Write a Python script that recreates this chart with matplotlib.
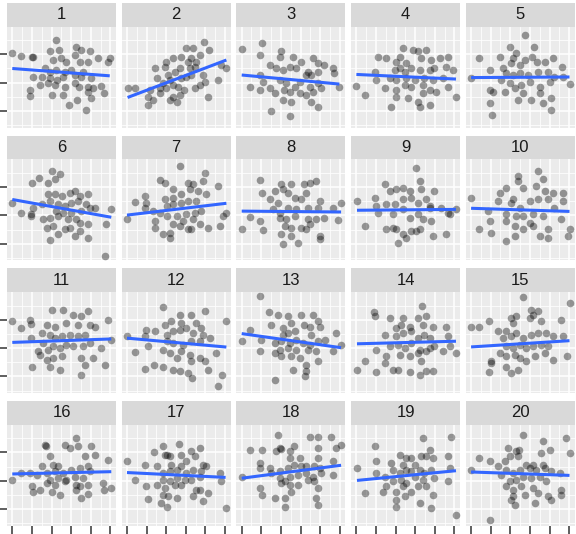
import numpy as np
import matplotlib
matplotlib.use("Agg")
import matplotlib.pyplot as plt

# scatter points of each panel (x ticks 0..5, y ticks -1..1)
p1_x = [0, 0.42, 0.98, 1.07, 2.25, 1.9, 2.4, 3.27, 3.5, 3.95, 3.2, 2.1, 2.5, 2.76, 3.44, 3.86, 4.37, 4.97, 4.88,
        1.66, 1.9, 2.25, 2.7, 3.0, 3.6, 1.07, 1.5, 1.9, 2.3, 2.6, 3.2, 3.5, 4.0, 1.4, 1.8, 2.2, 2.7, 3.2, 3.4,
        3.86, 4.1, 4.5, 0.9, 0.9, 2.0, 2.6, 3.3, 3.86, 4.66, 2.9, 3.75, 4.03]
p1_y = [1.04, 0.94, 0.92, 0.92, 1.5, 1.1, 1.15, 1.27, 1.15, 1.1, 0.98, 0.8, 0.86, 0.74, 0.74, 0.74, 0.86, 0.86, 0.74,
        0.5, 0.39, 0.45, 0.39, 0.45, 0.39, 0.21, 0.21, 0.15, 0.09, 0.21, 0.27, 0.21, 0.15, -0.08, -0.02, -0.08, -0.14, -0.02, -0.14,
        -0.14, -0.2, -0.12, -0.26, -0.46, -0.44, -0.44, -0.6, -0.32, -0.38, -0.79, -0.96, -0.55]

p2_x = [0.03, 0.4, 1.08, 1.42, 1.34, 1.68, 1.93, 2.0, 2.36, 2.44, 2.36, 2.7, 2.78, 3.03, 3.37, 3.29, 3.7, 3.95, 4.2,
        3.2, 3.46, 3.29, 3.88, 3.7, 2.78, 3.03, 2.19, 1.85, 2.36, 1.51, 2.6, 4.13, 4.64, 4.8, 5.07, 2.1, 1.68,
        2.9, 3.46, 3.97, 1.17, 2.0, 2.7, 3.54, 3.12, 2.19, 2.53, 1.08]
p2_y = [-0.18, -0.18, -0.49, 0.51, -0.61, -0.38, 0.56, -0.2, 0.86, 0.39, -0.49, -0.44, 0.92, 1.21, 1.21, 0.86, 0.98, 1.45, 1.15,
        0.51, 0.56, 0.27, 0.27, -0.08, 0.15, 0.21, 0.09, -0.02, -0.08, 0.15, -0.14, -0.49, 0.09, 0.62, 0.51, 0.27, -0.2,
        -0.26, -0.2, 0.04, -0.26, 0.74, 0.51, 0.74, 0.74, -0.61, -0.67, -0.79]

p3_x = [0, 1.03, 0.92, 2.02, 1.95, 2.6, 3.03, 3.63, 3.88, 4.2, 4.66, 4.73, 4.98, 1.42, 1.76, 2.1, 2.44, 2.78, 3.37,
        3.29, 3.54, 3.88, 0.92, 1.08, 0.41, 0.92, 1.42, 1.93, 2.27, 2.7, 2.17, 2.44, 2.95, 3.46, 3.88, 4.05,
        3.63, 3.29, 2.95, 2.53, 2.1, 3.54, 3.88, 1.51, 2.47, 1.68]
p3_y = [1.19, 1.39, 0.98, 1.12, 0.92, 0.92, 0.74, 0.86, 0.68, 0.62, 0.51, 0.33, -0.14, 0.62, 0.51, 0.45, 0.56, 0.51, 0.39,
        0.27, 0.27, 0.39, 0.27, 0.04, -0.14, -0.26, -0.2, 0.09, -0.02, -0.14, -0.26, -0.32, 0.04, -0.14, -0.02, -0.2,
        -0.32, -0.44, -0.38, -0.67, -0.61, -0.67, -0.85, -1.0, -1.16, -0.38]

p4_x = [0, 0.42, 0.93, 1.02, 1.1, 1.53, 1.44, 1.78, 2.03, 2.37, 2.2, 2.54, 2.88, 3.14, 3.56, 3.3, 3.81, 4.24, 4.66,
        4.58, 4.92, 1.95, 2.2, 2.46, 2.8, 3.22, 3.73, 3.98, 1.7, 2.03, 2.54, 2.97, 3.47, 3.9, 4.4, 2.03,
        2.46, 2.8, 3.39, 3.39, 3.73, 4.66, 5.08, 2.03, 2.63, 3.14, 3.73, 3.22, 4.07]
p4_y = [-0.12, -0.44, 0.39, 0.09, 0.89, 0.86, -0.2, -0.85, 0.74, 1.21, 0.92, 0.68, 1.15, 1.1, 1.15, 0.86, 0.8, 0.86, 0.92,
        0.56, 0.45, 0.45, 0.51, 0.39, 0.51, 0.45, 0.45, 0.51, 0.15, 0.09, 0.15, 0.09, 0.15, 0.09, 0.15, -0.26,
        -0.08, -0.14, -0.08, -0.38, -0.26, -0.14, -0.49, -0.49, -0.55, -0.67, -0.79, -0.85, -0.32]

p5_x = [0, 0.41, 0.95, 0.95, 0.95, 1.05, 1.12, 1.46, 1.63, 1.71, 1.97, 2.14, 2.31, 2.05, 2.75, 2.75, 3.19, 3.1, 3.36,
        3.78, 4.2, 4.63, 4.68, 5.02, 1.8, 2.14, 2.48, 2.9, 3.4, 3.9, 4.24, 1.97, 2.22, 2.56, 2.98, 3.49,
        3.49, 4.0, 2.64, 2.39, 3.07, 3.66, 4.08, 4.08, 2.48, 1.54]
p5_y = [0.15, 0.88, 0.45, -0.26, -0.71, -1.14, -0.32, 0.92, 0.51, -0.32, 1.27, 0.86, 1.04, 0.68, 1.68, 0.8, 1.27, 0.92, 0.74,
        0.74, 0.86, 0.56, 0.21, -0.06, 0.33, 0.27, 0.33, 0.27, 0.39, 0.39, 0.21, -0.02, -0.2, -0.08, 0.04, -0.14,
        -0.38, 0.04, -0.38, -0.61, -0.61, -0.73, -0.55, -0.96, 0.62, 0.09]

p6_x = [0, 0.42, 0.93, 0.93, 1.03, 1.37, 2.0, 2.42, 2.17, 1.8, 1.8, 2.2, 2.51, 2.93, 3.19, 3.44, 3.86, 1.49, 1.92,
        2.34, 2.68, 3.02, 3.36, 3.78, 3.95, 4.2, 1.07, 2.25, 2.58, 3.02, 3.53, 1.58, 1.92, 2.34, 2.85, 3.27,
        3.44, 3.86, 4.8, 5.05, 1.75, 2.08, 2.68, 2.93, 2.34, 3.19, 3.86, 1.92, 3.44, 4.71]
p6_y = [0.45, 0.09, 0.06, -0.02, 1.15, 1.31, 1.56, 1.45, 1.27, 1.15, 0.74, 0.74, 0.68, 0.8, 0.86, 0.68, 0.74, 0.39, 0.51,
        0.39, 0.33, 0.45, 0.51, 0.39, 0.27, 0.27, 0.27, 0.15, 0.09, 0.09, 0.15, -0.14, -0.08, -0.02, -0.14, -0.14,
        -0.26, -0.32, -0.32, 0.21, -0.44, -0.38, -0.49, -0.44, -0.67, -0.73, -0.81, -0.88, -0.55, -1.44]

p7_x = [0, 0.39, 0.9, 0.98, 0.9, 1.68, 1.93, 1.42, 1.42, 1.85, 2.19, 2.19, 1.93, 2.36, 2.7, 2.36, 2.78, 3.12, 3.37,
        3.2, 3.63, 3.97, 3.88, 4.05, 4.64, 2.02, 2.36, 2.78, 3.12, 3.54, 2.02, 2.53, 3.03, 3.46, 3.8, 2.86,
        3.37, 3.71, 2.7, 3.12, 3.29, 4.13, 4.73, 4.9, 5.07, 1.34, 1.68, 2.36]
p7_y = [-0.14, 0.47, 0.68, 0.45, 0.27, 1.24, 1.15, -0.2, -0.44, -0.67, -0.79, -0.61, 0.56, 0.92, 1.74, 0.62, 0.74, 1.15, 1.1,
        0.92, 0.86, 1.51, 1.21, 0.74, 1.04, 0.33, 0.39, 0.45, 0.51, 0.51, -0.02, -0.02, 0.04, 0.09, 0.15, -0.2,
        -0.14, -0.32, -0.38, -0.49, -0.49, -0.44, -0.38, -0.02, 0.09, 0.15, 0.09, -0.32]

p8_x = [0, 0.41, 0.92, 1.05, 0.92, 1.08, 1.42, 1.68, 2.02, 2.1, 1.85, 2.53, 2.36, 2.71, 3.2, 3.46, 3.8, 3.29, 3.03,
        3.97, 4.64, 5.07, 1.59, 1.93, 2.36, 2.78, 3.37, 3.88, 1.93, 2.27, 2.7, 3.37, 3.8, 4.22, 2.19, 2.53,
        3.03, 3.46, 2.02, 2.53, 2.1, 2.86, 3.29, 3.97, 3.97, 4.9]
p8_y = [-0.49, -0.06, 1.24, 0.8, -0.2, -0.53, 0.56, 0.86, 1.09, 0.92, 0.45, 1.09, 0.8, 0.62, 1.09, 1.15, 1.21, 0.8, 0.56,
        0.51, 0.27, 0.45, 0.21, 0.09, 0.27, 0.21, 0.27, 0.27, -0.08, -0.14, -0.02, -0.14, -0.14, -0.08, -0.38, -0.44,
        -0.44, -0.32, -0.67, -0.73, -1.0, -0.96, -0.49, -0.73, -0.85, -0.18]

p9_x = [0.03, 0.42, 0.93, 1.02, 1.1, 1.44, 1.7, 2.03, 2.37, 2.71, 3.05, 3.22, 3.3, 3.98, 1.53, 1.95, 2.37, 2.8, 3.14,
        3.56, 3.73, 4.32, 4.75, 5.08, 1.86, 2.37, 2.71, 3.14, 3.39, 3.81, 1.53, 1.86, 2.03, 2.12, 2.37, 2.8,
        3.05, 3.22, 3.9, 4.58, 4.66, 3.73, 2.54]
p9_y = [0.51, -0.38, 0.62, 0.33, 0.09, 1.12, 0.86, 0.92, 0.98, 0.86, 1.68, 1.21, 0.92, 0.86, 0.39, 0.39, 0.56, 0.62, 0.45,
        0.56, 0.33, 0.27, 0.04, 0.21, 0.04, 0.21, -0.08, 0.04, -0.14, -0.2, -0.49, -0.44, -0.49, -0.96, -0.67, -0.55,
        -0.55, -0.49, -0.73, -0.67, 0.09, 0.27, -0.79]

p10_x = [0, 0.41, 0.95, 1.03, 1.46, 1.8, 2.14, 2.39, 2.39, 2.64, 3.41, 3.66, 3.32, 3.75, 4.17, 4.68, 4.68, 0.86, 1.37,
         2.05, 2.47, 2.98, 3.41, 3.92, 4.25, 1.8, 2.31, 2.64, 3.15, 3.66, 1.8, 2.22, 2.64, 3.15, 3.49, 3.92,
         3.92, 2.22, 1.8, 4.6, 4.93, 5.02, 2.98]
p10_y = [0.62, -0.49, -0.2, -0.61, 0.8, 0.98, 0.56, 1.39, 1.21, 0.98, 1.56, 1.27, 1.04, 0.86, 0.8, 0.8, 0.51, 0.15, 0.51,
         0.45, 0.27, 0.51, 0.56, 0.56, 0.27, 0.04, -0.02, -0.02, 0.04, -0.02, -0.2, -0.38, -0.49, -0.38, -0.73, -0.49,
         -0.79, -0.73, -0.91, -0.14, -0.73, -0.49, -0.26]

p11_x = [0, 0.42, 0.9, 0.93, 0.93, 1.03, 1.49, 1.75, 2.0, 2.59, 2.17, 2.76, 3.1, 3.36, 3.53, 3.86, 3.95, 4.2, 4.88,
         1.58, 1.92, 2.17, 2.51, 2.93, 3.36, 3.7, 1.32, 1.83, 2.08, 2.42, 2.76, 3.1, 3.61, 3.95, 4.54, 1.75,
         2.08, 2.51, 1.92, 2.42, 3.53, 3.7, 4.12, 3.53, 4.71, 5.05, 1.41]
p11_y = [0.96, 0.71, 1.0, 0.85, 0.35, -0.68, 0.53, 0.82, 1.35, 1.35, 0.76, 0.88, 1.18, 0.82, 1.12, 1.29, 0.82, 0.76, 1.0,
         0.18, 0.47, 0.35, 0.41, 0.47, 0.41, 0.47, -0.12, -0.06, 0.06, 0, 0.12, 0.06, 0.06, 0.18, 0, -0.41,
         -0.35, -0.29, -0.65, -0.76, -0.35, -0.59, -0.35, -0.94, -0.59, 0.29, -0.24]

p12_x = [0, 0.39, 0.92, 0.92, 0.98, 1.08, 1.42, 1.37, 1.85, 1.85, 1.93, 2.27, 2.7, 2.78, 3.29, 3.54, 3.97, 3.8, 5.07,
         2.02, 2.36, 2.7, 3.03, 3.37, 3.88, 4.22, 2.02, 2.36, 2.86, 3.29, 3.71, 1.85, 2.19, 2.78, 3.2, 3.71,
         3.97, 2.53, 2.36, 2.7, 3.12, 3.34, 4.14, 4.56, 4.86, 4.64, 3.29]
p12_y = [0.41, -0.14, 0.41, -0.74, 0.65, 0.06, 0.59, -0.59, 1.44, -0.68, 0.82, 0.94, 1.18, 0.88, 1.18, 0.88, 1.32, 0.71, 0.96,
         0.47, 0.59, 0.65, 0.71, 0.53, 0.47, 0.35, 0.24, 0.18, 0.12, 0.24, 0.24, -0.06, -0.18, -0.12, -0.24, -0.35,
         -0.47, -0.35, -0.76, -0.82, -0.88, -1.04, -0.76, -0.18, -0.96, -1.35, -0.47]

p13_x = [0, 0.41, 0.92, 1.0, 0.92, 1.39, 1.51, 1.68, 1.85, 2.1, 2.36, 2.53, 2.1, 2.36, 2.71, 3.03, 3.2, 3.46, 3.63,
         3.9, 3.97, 3.53, 4.27, 4.81, 1.68, 2.02, 2.44, 2.78, 3.12, 3.46, 3.88, 1.93, 2.36, 2.78, 3.37, 3.8,
         1.68, 2.02, 2.53, 2.95, 3.88, 3.29, 2.61, 3.29, 3.25, 4.64, 5.07]
p13_y = [0.24, 0.65, 1.82, 0.29, -0.09, 1.27, 0.82, -1.12, 1.18, 0.71, 1.12, 0.88, 0.47, 0.53, 0.59, 1.18, 0.82, 0.76, 1.18,
         0.94, 0.76, 0.47, 0.29, 0.53, 0.18, 0.24, 0.18, 0.29, 0.18, 0.12, 0.24, -0.06, 0, -0.06, -0.06, -0.12,
         -0.18, -0.29, -0.29, -0.35, -0.47, -0.59, -0.76, -0.82, -1.0, -0.12, 0.12]

p14_x = [0.03, 0.42, 0.88, 0.93, 1.02, 1.02, 1.44, 1.7, 1.44, 1.86, 2.12, 2.03, 2.37, 2.29, 2.71, 3.14, 3.36, 3.39, 3.56,
         3.9, 4.58, 4.66, 2.03, 2.37, 2.8, 3.14, 3.47, 3.73, 1.7, 2.12, 2.46, 2.8, 3.22, 3.73, 3.98, 4.4,
         1.53, 2.2, 2.71, 3.14, 3.56, 3.3, 2.71, 3.22, 3.56, 3.9, 4.75, 5.08]
p14_y = [-0.76, -0.47, 1.27, 1.12, -0.06, -0.86, 0.47, 1.06, -0.53, -0.76, -0.76, 0.71, 1.06, 0.82, 0.76, 1.06, 1.47, 0.82, 1.12,
         0.76, 0.76, 0.41, 0.41, 0.53, 0.59, 0.35, 0.47, 0.35, 0.06, 0.12, 0, 0.18, -0.06, 0, 0.06, -0.12,
         -0.29, -0.24, -0.29, -0.18, -0.12, -0.47, -0.85, -0.94, -0.8, -0.82, 0.06, -0.18]

p15_x = [0, 0.41, 0.92, 1.03, 0.93, 1.37, 1.8, 2.05, 2.14, 2.31, 2.64, 2.98, 3.07, 3.41, 3.58, 3.15, 4.59, 5.02, 1.63,
         2.05, 2.31, 2.64, 3.07, 3.41, 3.83, 4.17, 4.68, 1.46, 1.8, 2.14, 2.48, 2.81, 3.15, 3.58, 3.92, 1.8,
         2.22, 2.48, 2.81, 3.24, 3.75, 4.17, 1.8, 2.05, 2.39, 4.88, 1.03]
p15_y = [0.73, 0.76, 0.94, -0.53, -0.86, 0.61, 0.59, 1.06, 0.88, 1.12, 1.79, 1.06, 1.35, 1.29, 0.94, 1.18, 1.0, 1.59, 0.35,
         0.41, 0.53, 0.35, 0.47, 0.53, 0.53, 0.41, 0.41, -0.18, 0.06, 0, 0.12, 0, 0.06, 0.12, 0.06, -0.29,
         -0.24, -0.35, -0.47, -0.29, -0.18, -0.41, -0.68, -0.88, -0.76, -0.29, -0.47]

p16_x = [0, 0.42, 0.9, 1.0, 1.05, 1.39, 1.49, 1.69, 1.72, 1.92, 2.0, 2.08, 2.34, 2.42, 2.68, 2.93, 3.27, 3.36, 3.69,
         4.03, 4.2, 4.88, 1.75, 2.2, 2.61, 3.02, 3.44, 3.86, 3.95, 1.92, 2.34, 2.76, 3.19, 3.61, 1.75, 2.17,
         2.68, 3.27, 3.44, 3.86, 3.27, 3.53, 3.86, 4.63, 4.66, 5.05, 1.24]
p16_y = [0.04, 0.27, 0.27, -0.2, -0.38, -0.32, 0.51, 1.27, 1.21, 0.86, -0.38, 0.56, 0.51, -0.49, 1.27, 1.15, 1.51, 1.21, 0.86,
         1.21, 0.92, 0.74, 0.27, 0.33, 0.27, 0.39, 0.45, 0.51, 0.33, 0.04, 0.09, 0.04, 0.15, 0.09, -0.08, -0.14,
         -0.02, -0.14, -0.2, -0.14, -0.32, -0.61, -0.46, -0.08, -0.32, -0.24, 0.21]

p17_x = [0, 0.39, 0.92, 0.98, 1.08, 1.37, 1.51, 1.85, 1.93, 2.02, 2.19, 2.27, 2.66, 2.78, 3.03, 3.29, 3.46, 3.71, 3.88,
         4.05, 1.85, 2.19, 2.53, 2.78, 3.03, 3.37, 3.8, 1.85, 2.19, 2.53, 2.95, 3.29, 3.71, 1.51, 1.93, 2.44,
         2.78, 3.71, 1.85, 2.1, 2.53, 3.37, 3.88, 4.13, 1.76, 2.02, 3.54, 4.73, 4.8, 5.03]
p17_y = [0.68, 0.01, 0.56, -0.2, -0.65, 1.0, 0.51, 1.21, 0.92, 0.92, 0.86, 0.56, 1.31, 0.92, 0.68, 1.04, 0.86, 1.15, 0.56,
         0.51, 0.27, 0.33, 0.39, 0.51, 0.27, 0.39, 0.33, 0.04, -0.02, 0.09, 0.04, 0.04, 0.15, -0.14, -0.26, -0.14,
         -0.14, -0.32, -0.49, -0.55, -0.61, -0.55, -0.73, -0.44, -0.79, -0.91, -0.32, 0.27, -0.02, -0.96]

p18_x = [0, 0.41, 0.92, 0.92, 1.05, 1.05, 1.42, 1.68, 1.76, 1.85, 1.93, 2.0, 2.19, 2.19, 2.44, 2.44, 2.69, 2.95, 3.46,
         3.88, 3.88, 3.88, 4.56, 4.81, 5.07, 4.64, 4.64, 1.51, 1.93, 2.36, 2.69, 3.03, 3.29, 3.71, 3.97, 1.93,
         2.19, 2.44, 2.86, 3.29, 3.63, 4.05, 2.02, 2.44, 2.86, 3.37, 3.71, 2.53, 3.88, 3.8, 3.88, 0.92]
p18_y = [0.15, 1.07, 0.45, -0.26, 1.09, -0.49, 0.45, -0.61, 1.04, 1.62, 1.15, 1.12, -0.61, -0.91, 1.04, 0.8, 1.21, 0.8, 1.56,
         1.56, 1.15, 0.8, 1.56, 1.15, 1.27, 0.68, 0.21, 0.27, 0.33, 0.45, 0.56, 0.51, 0.51, 0.51, 0.45, 0.09,
         -0.02, 0.15, 0.21, 0.27, 0.15, 0.27, -0.08, -0.14, -0.14, 0.04, -0.02, -0.38, -0.26, -0.61, -0.85, 0.62]

p19_x = [0.03, 0.42, 0.93, 1.02, 1.02, 1.44, 1.53, 1.78, 1.86, 2.03, 2.03, 2.2, 2.37, 2.54, 2.8, 2.97, 3.3, 3.39, 3.56,
         3.73, 3.9, 4.66, 4.83, 4.75, 2.2, 2.54, 2.8, 3.22, 3.47, 3.81, 1.86, 2.29, 2.54, 2.97, 3.39, 3.98,
         2.03, 2.37, 2.8, 3.14, 3.56, 2.46, 3.22, 3.9, 3.81, 4.66, 5.08, 1.36]
p19_y = [0.45, -0.44, 1.21, 0.68, 0.27, 0.15, -0.2, 0.62, 0.39, -0.67, -0.91, 0.92, 0.56, 0.8, 0.8, 0.56, 0.86, 1.51, 0.86,
         1.09, 0.8, 0.86, 1.56, 0.45, 0.27, 0.39, 0.33, 0.39, 0.27, 0.39, -0.02, 0.04, -0.08, 0.15, 0.04, 0.09,
         -0.38, -0.2, -0.38, -0.2, -0.2, -0.55, -0.79, -0.49, -0.96, -0.02, -1.2, -0.38]

p20_x = [0, 0.41, 0.95, 0.95, 1.37, 1.71, 1.88, 1.97, 2.31, 2.39, 2.42, 2.64, 2.81, 3.15, 3.58, 3.66, 4.0, 4.85, 5.02,
         3.66, 1.8, 2.14, 2.48, 2.98, 3.32, 3.75, 4.1, 4.51, 1.54, 1.97, 2.31, 2.64, 3.07, 3.49, 3.83, 1.8,
         2.14, 2.56, 3.15, 3.41, 3.92, 4.08, 4.59, 4.59, 2.14, 2.22, 2.73, 3.24, 2.05]
p20_y = [0.39, 0.8, 0.68, -1.38, 0.51, 0.68, 1.15, 0.86, 1.04, 0.86, 1.1, 1.62, 0.56, 0.56, 0.98, 1.39, 1.09, 1.51, 0.98,
         0.56, 0.39, 0.27, 0.39, 0.45, 0.39, 0.45, 0.33, 0.27, 0.21, -0.02, 0.04, 0.15, 0.09, 0.15, -0.02, -0.2,
         -0.32, -0.2, -0.26, -0.44, -0.55, -0.67, -0.32, -0.49, -0.55, -0.85, -0.49, -0.79, -0.67]

# fitted line of each panel: y at x = 0 and at x = 5
line_start = [0.50, -0.53, 0.27, 0.29, 0.18, 0.56, 0.01, 0.15, 0.18, 0.25,
              0.20, 0.35, 0.51, 0.15, 0.04, 0.24, 0.29, 0.09, 0.01, 0.31]
line_end = [0.24, 0.78, -0.05, 0.13, 0.20, -0.06, 0.42, 0.12, 0.21, 0.14,
            0.32, 0.04, 0.02, 0.24, 0.26, 0.32, 0.12, 0.54, 0.35, 0.19]

panel_labels = [str(i) for i in range(1, 21)]

all_x = [p1_x, p2_x, p3_x, p4_x, p5_x, p6_x, p7_x, p8_x, p9_x, p10_x,
         p11_x, p12_x, p13_x, p14_x, p15_x, p16_x, p17_x, p18_x, p19_x, p20_x]
all_y = [p1_y, p2_y, p3_y, p4_y, p5_y, p6_y, p7_y, p8_y, p9_y, p10_y,
         p11_y, p12_y, p13_y, p14_y, p15_y, p16_y, p17_y, p18_y, p19_y, p20_y]

W, H = 576, 534
fig = plt.figure(figsize=(W / 100, H / 100), dpi=100)

col_step, row_step = 114.7, 132.7
panel_w = 109.0
strip_top, plot_top, plot_bot = 3.0, 26.5, 127.5

for i in range(20):
    r, c = divmod(i, 5)
    left = 7.0 + col_step * c
    top = plot_top + row_step * r
    bot = plot_bot + row_step * r
    ax = fig.add_axes([left / W, 1 - bot / H, panel_w / W, (bot - top) / H])
    ax.set_facecolor("#EBEBEB")
    ax.set_xlim(-0.27, 5.29)
    ax.set_ylim(-1.58, 1.98)
    ax.set_xticks(range(6))
    ax.set_xticks([0.5, 1.5, 2.5, 3.5, 4.5], minor=True)
    ax.set_yticks([-1, 0, 1])
    ax.set_yticks([-1.5, -0.5, 0.5, 1.5], minor=True)
    ax.grid(True, which="major", color="white", linewidth=1.1)
    ax.grid(True, which="minor", color="white", linewidth=0.55)
    ax.set_axisbelow(True)
    for s in ax.spines.values():
        s.set_visible(False)
    ax.tick_params(which="minor", length=0)
    ax.tick_params(which="major", labelleft=False, labelbottom=False,
                   color="#333333", width=1.1, length=6.5)
    if c != 0:
        ax.tick_params(axis="y", which="major", length=0)
    if r != 3:
        ax.tick_params(axis="x", which="major", length=0)

    xs = np.array(all_x[i])
    ys = np.array(all_y[i])
    ax.scatter(xs, ys, s=30, color="black", alpha=0.38, linewidths=0, zorder=2)
    slope = (line_end[i] - line_start[i]) / 5.0
    lx = np.array([xs.min(), xs.max()])
    ax.plot(lx, line_start[i] + slope * lx, color="#3366FF", linewidth=2.2,
            solid_capstyle="butt", zorder=3)

    # facet strip
    st = strip_top + row_step * r
    sax = fig.add_axes([left / W, 1 - top / H, panel_w / W, (top - st) / H])
    sax.set_facecolor("#D9D9D9")
    sax.set_xticks([])
    sax.set_yticks([])
    for s in sax.spines.values():
        s.set_visible(False)
    sax.text(0.5, 0.5, panel_labels[i], ha="center", va="center",
             fontsize=12, color="#1A1A1A", family="Liberation Sans",
             transform=sax.transAxes)

fig.savefig("out.png", dpi=100)
